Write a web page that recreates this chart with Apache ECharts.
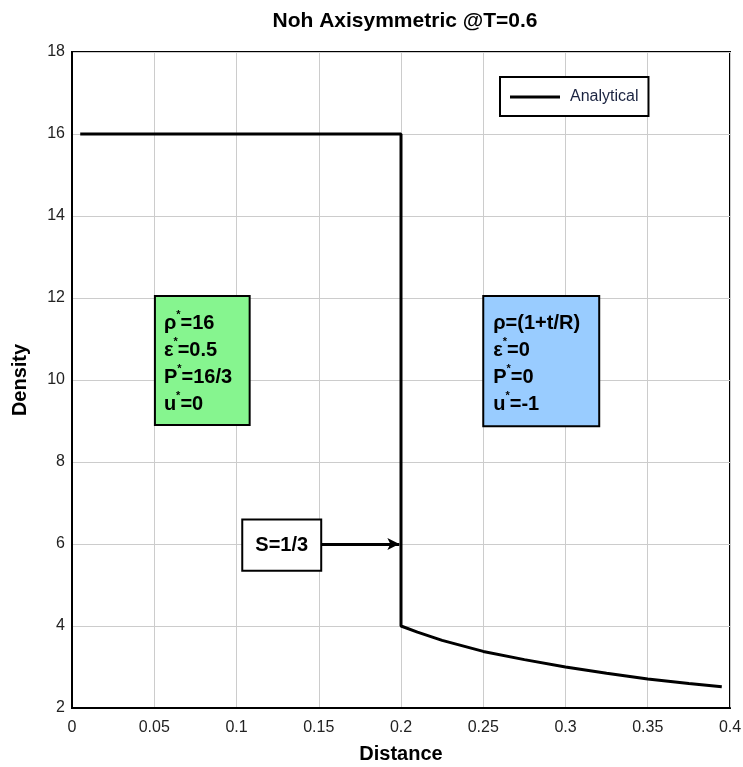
<!DOCTYPE html>
<html><head><meta charset="utf-8">
<script src="https://cdn.jsdelivr.net/npm/echarts@6/dist/echarts.min.js"></script>
<style>html,body{margin:0;padding:0;background:#fff}#c{width:743px;height:767px}</style>
</head><body><div id="c"></div>
<script>
const titleText = 'Noh Axisymmetric @T=0.6';
const xName = 'Distance';
const yName = 'Density';
const seriesName = 'Analytical';
const distance = [0.005, 0.2, 0.2, 0.21, 0.225, 0.25, 0.275, 0.3, 0.325, 0.35, 0.375, 0.395];
const density  = [16, 16, 4.0, 3.85, 3.65, 3.38, 3.18, 3.0, 2.85, 2.71, 2.6, 2.52];
const arrowFrom = [0.151, 6];
const arrowTo = [0.199, 6];

const font = '"Liberation Sans", Arial, sans-serif';
const chart = echarts.init(document.getElementById('c'));
chart.setOption({
  animation: false,
  backgroundColor: '#fff',
  title: { text: titleText, left: 400, textAlign: 'center', top: 6,
    textStyle: { fontFamily: font, fontSize: 21, fontWeight: 'bold', color: '#000' } },
  grid: { left: 72, right: 13, top: 52, bottom: 59, show: true, borderColor: '#000', borderWidth: 2,
    containLabel: false, outerBoundsMode: 'none' },
  legend: { left: 500, top: 77, padding: [12, 10, 11, 10],
    borderColor: '#000', borderWidth: 2, backgroundColor: '#fff',
    itemWidth: 50, itemHeight: 16, itemGap: 8,
    textStyle: { fontFamily: font, fontSize: 16, color: '#1a2340', padding: [0, 0, 0, 5] },
    data: [{ name: seriesName, icon: 'path://M0,6.5 L50,6.5 L50,9.5 L0,9.5 Z' }] },
  xAxis: { type: 'value', min: 0, max: 0.4, interval: 0.05, name: xName,
    nameLocation: 'middle', nameGap: 36,
    nameTextStyle: { fontFamily: font, fontSize: 20, fontWeight: 'bold', color: '#000' },
    axisLine: { show: true, lineStyle: { color: '#000', width: 2 } },
    axisTick: { show: false },
    axisLabel: { fontFamily: font, fontSize: 16, color: '#222', margin: 12 },
    splitLine: { show: true, lineStyle: { color: '#cccccc', width: 1 } } },
  yAxis: { type: 'value', min: 2, max: 18, interval: 2, name: yName,
    nameLocation: 'middle', nameGap: 42, nameRotate: 90,
    nameTextStyle: { fontFamily: font, fontSize: 20, fontWeight: 'bold', color: '#000' },
    axisLine: { show: true, lineStyle: { color: '#000', width: 2 } },
    axisTick: { show: false },
    axisLabel: { fontFamily: font, fontSize: 16, color: '#222', margin: 7 },
    splitLine: { show: true, lineStyle: { color: '#cccccc', width: 1 } } },
  series: [{
    name: seriesName, type: 'line', showSymbol: false, symbol: 'none',
    data: distance.map((x, i) => [x, density[i]]),
    lineStyle: { color: '#000', width: 3 }, itemStyle: { color: '#000' },
    markLine: { silent: true, symbol: ['none', 'arrow'], symbolSize: [9, 12],
      lineStyle: { color: '#000', width: 3, type: 'solid' }, label: { show: false },
      data: [[{ coord: arrowFrom }, { coord: arrowTo }]] }
  }]
});

const sup = { fontFamily: font, fontSize: 11, fontWeight: 'bold', color: '#000', verticalAlign: 'top', lineHeight: 27 };
const main = { fontFamily: font, fontSize: 20, fontWeight: 'bold', color: '#000', lineHeight: 27 };
function px(p) { return chart.convertToPixel({ gridIndex: 0 }, p); }
function box(x0, y0, x1, y1, fill, text, padLeft, padTop) {
  const a = px([x0, y0]), b = px([x1, y1]);
  return [{ type: 'rect', z: 100, shape: { x: a[0], y: a[1], width: b[0] - a[0], height: b[1] - a[1] },
      style: { fill: fill, stroke: '#000', lineWidth: 2 } },
    { type: 'text', z: 101, x: a[0] + padLeft, y: a[1] + padTop,
      style: { text: text, rich: { m: main, s: sup }, font: 'bold 20px ' + font } }];
}
const greenText = ['{m|ρ}{s|*}{m|=16}', '{m|ε}{s|*}{m|=0.5}', '{m|P}{s|*}{m|=16/3}', '{m|u}{s|*}{m|=0}'].join('\n');
const blueText = ['{m|ρ=(1+t/R)}', '{m|ε}{s|*}{m|=0}', '{m|P}{s|*}{m|=0}', '{m|u}{s|*}{m|=-1}'].join('\n');
const g = [].concat(
  box(0.0504, 12.05, 0.108, 8.9, '#86f58f', greenText, 9, 14),
  box(0.25, 12.05, 0.3205, 8.87, '#99ccff', blueText, 10, 14)
);
const s0 = px([0.1035, 6.6]), s1 = px([0.1515, 5.35]);
g.push({ type: 'rect', z: 100, shape: { x: s0[0], y: s0[1], width: s1[0] - s0[0], height: s1[1] - s0[1] },
  style: { fill: '#fff', stroke: '#000', lineWidth: 2 } });
g.push({ type: 'text', z: 101, x: (s0[0] + s1[0]) / 2, y: (s0[1] + s1[1]) / 2,
  style: { text: 'S=1/3', font: 'bold 20px ' + font, fill: '#000', align: 'center', verticalAlign: 'middle' } });
chart.setOption({ graphic: g });
</script></body></html>
